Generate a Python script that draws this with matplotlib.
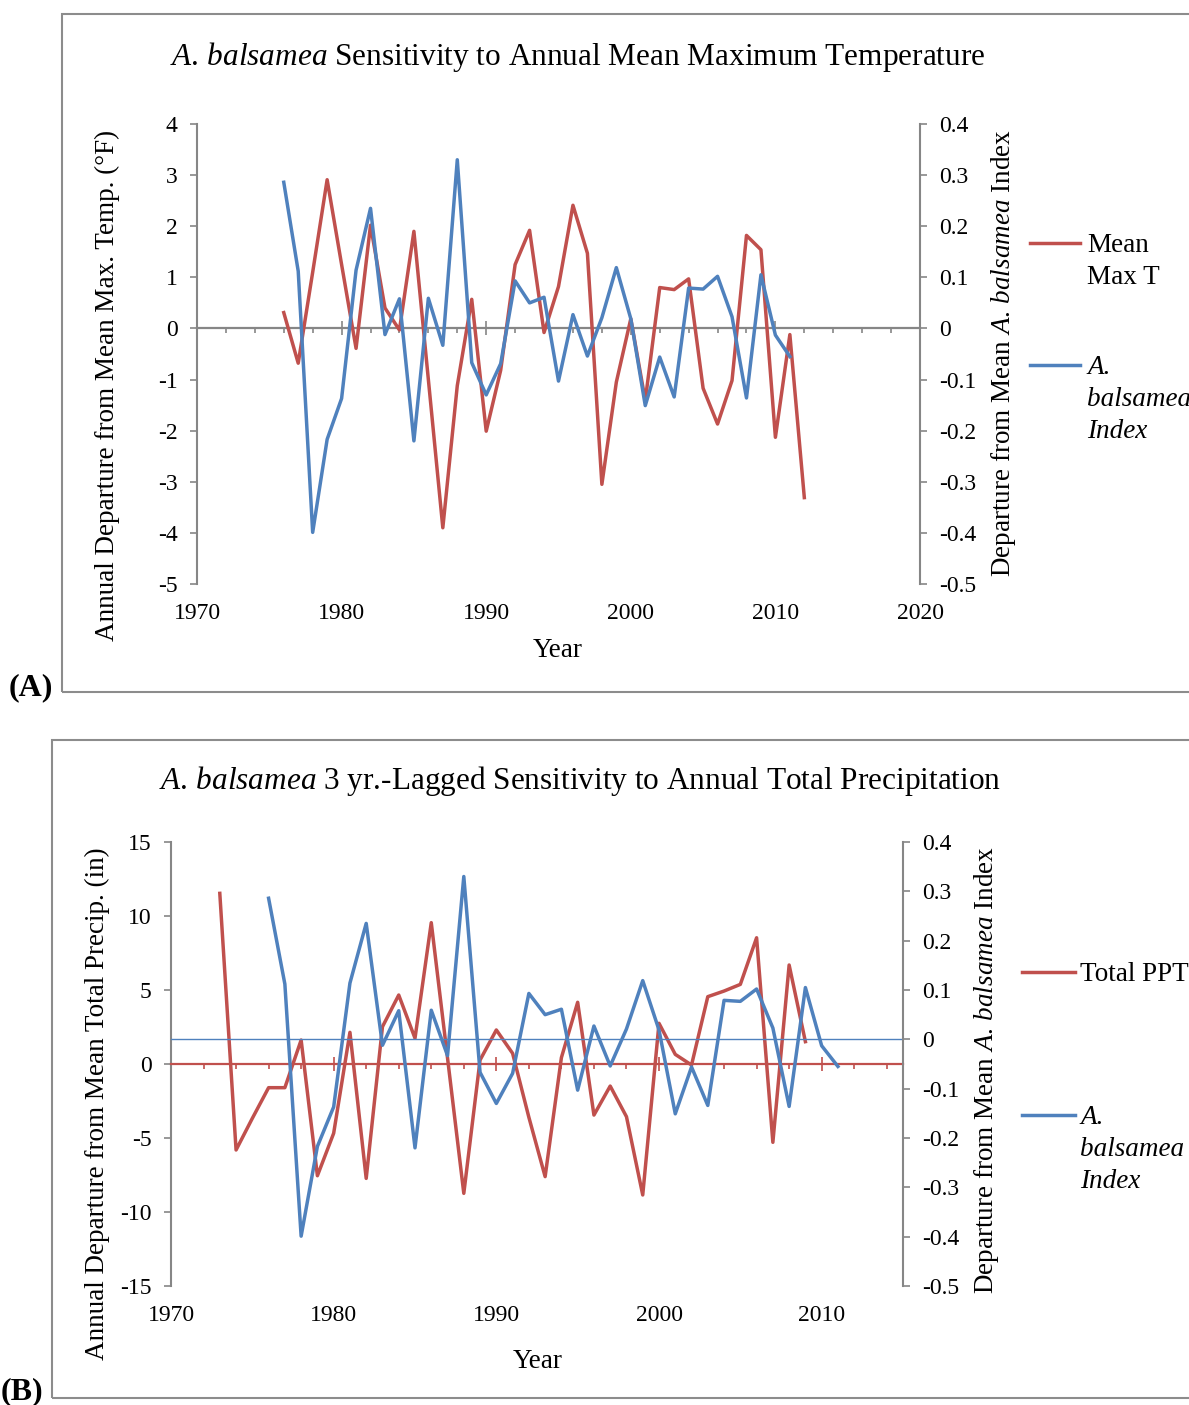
import matplotlib
matplotlib.use("Agg")
import matplotlib.pyplot as plt
from matplotlib.ticker import MultipleLocator, FixedLocator, FuncFormatter, NullLocator
from matplotlib.patches import Rectangle
from matplotlib.lines import Line2D

# ---------------- data ----------------
years_temp = list(range(1976, 2013))
mean_max_t = [0.31, -0.68, 1.10, 2.91, 1.25, -0.39, 2.02, 0.40, -0.03, 1.90,
              -1.00, -3.90, -1.12, 0.57, -2.01, -0.82, 1.25, 1.92, -0.08, 0.82,
              2.41, 1.47, -3.05, -1.05, 0.19, -1.41, 0.80, 0.76, 0.97, -1.17,
              -1.87, -1.02, 1.82, 1.54, -2.13, -0.12, -3.31]

years_index = list(range(1976, 2012))
balsamea_index = [0.286, 0.112, -0.399, -0.217, -0.137, 0.114, 0.235, -0.012, 0.058, -0.220,
                  0.059, -0.033, 0.330, -0.067, -0.130, -0.069, 0.093, 0.050, 0.061, -0.103,
                  0.027, -0.054, 0.021, 0.119, 0.019, -0.151, -0.056, -0.134, 0.079, 0.077,
                  0.102, 0.023, -0.136, 0.105, -0.013, -0.055]

years_ppt = list(range(1973, 2010))
total_ppt = [11.53, -5.81, -3.67, -1.60, -1.60, 1.62, -7.55, -4.68, 2.14, -7.73,
             2.52, 4.66, 1.74, 9.55, 0.40, -8.74, 0.27, 2.30, 0.72, -3.60,
             -7.61, 0.43, 4.17, -3.45, -1.49, -3.56, -8.85, 2.75, 0.65, -0.07,
             4.55, 4.93, 5.38, 8.53, -5.29, 6.69, 1.51]

xticks_a = [1970, 1980, 1990, 2000, 2010, 2020]
xticks_b = [1970, 1980, 1990, 2000, 2010]

# ---------------- style ----------------
RED = "#C0504D"
BLUE = "#4F81BD"
GRAY = "#868686"
FONT = "Liberation Serif"
plt.rcParams["font.family"] = [FONT, "DejaVu Serif"]
plt.rcParams["mathtext.fontset"] = "custom"
plt.rcParams["mathtext.rm"] = FONT
plt.rcParams["mathtext.it"] = FONT + ":italic"
plt.rcParams["axes.unicode_minus"] = False

TICK_FS = 17
LAB_FS = 19.5
TITLE_FS = 22.5
LEG_FS = 19.5
LEG_LS = 1.36
LW = 2.5

W, H = 1189, 1405
fig = plt.figure(figsize=(W / 100, H / 100), dpi=100)


def fx(x):
    return x / W


def fy(y):
    return 1 - y / H


def fmt_right(v, pos):
    if abs(v) < 1e-9:
        return "0"
    return f"{v:.1f}"


def fmt_left(v, pos):
    return f"{v:.0f}"


def build_panel(box, frame, xlim, xticks, yl, yl_step, left_data, left_years,
                left_color, axis_color, title, ylab_left, ylab_right,
                title_xy, year_xy, ylab_left_xy, ylab_right_xy,
                leg_red, leg_blue, leg_red_label, panel_label, panel_xy):
    # frame
    fig.patches.append(Rectangle((fx(frame[0]), fy(frame[3])), fx(frame[2] - frame[0]),
                                 (frame[3] - frame[1]) / H, transform=fig.transFigure,
                                 fill=False, edgecolor="#8C8C8C", lw=1.5, zorder=0))
    ax = fig.add_axes([fx(box[0]), fy(box[3]), fx(box[2] - box[0]), (box[3] - box[1]) / H])
    ax.set_xlim(*xlim)
    ax.set_ylim(*yl)
    ax2 = ax.twinx()
    ax2.set_ylim(-0.5, 0.4)

    ax.plot(left_years, left_data, color=left_color, lw=LW, zorder=3)
    ax2.plot(years_index, balsamea_index, color=BLUE, lw=LW, zorder=3)

    # spines
    for s in ["top", "right"]:
        ax.spines[s].set_visible(False)
    for s in ["top", "left", "bottom"]:
        ax2.spines[s].set_visible(False)
    ax.spines["left"].set_color(GRAY)
    ax.spines["left"].set_linewidth(1.5)
    ax2.spines["right"].set_color(GRAY)
    ax2.spines["right"].set_linewidth(1.5)
    ax.spines["bottom"].set_position(("data", 0))
    ax.spines["bottom"].set_color(axis_color)
    ax.spines["bottom"].set_linewidth(1.6)
    ax.spines["bottom"].set_zorder(2.5)

    # x ticks on the zero line
    ax.xaxis.set_major_locator(MultipleLocator(10))
    ax.xaxis.set_minor_locator(MultipleLocator(2))
    ax.tick_params(axis="x", which="major", direction="inout", length=10, width=1.2,
                   color=axis_color, labelbottom=False)
    ax.tick_params(axis="x", which="minor", direction="out", length=3.5, width=1.2,
                   color=axis_color)

    # y ticks
    ax.yaxis.set_major_locator(MultipleLocator(yl_step))
    ax.yaxis.set_major_formatter(FuncFormatter(fmt_left))
    ax.tick_params(axis="y", direction="out", length=5, width=1.2, color=GRAY,
                   labelsize=TICK_FS, pad=9)
    ax2.yaxis.set_major_locator(MultipleLocator(0.1))
    ax2.yaxis.set_major_formatter(FuncFormatter(fmt_right))
    ax2.tick_params(axis="y", direction="out", length=5, width=1.2, color=GRAY,
                    labelsize=TICK_FS, pad=9)

    # year labels at the bottom of the plot area
    sec = ax.secondary_xaxis("bottom")
    sec.xaxis.set_major_locator(FixedLocator(xticks))
    sec.xaxis.set_minor_locator(NullLocator())
    sec.xaxis.set_major_formatter(FuncFormatter(lambda v, p: f"{v:.0f}"))
    sec.tick_params(axis="x", length=0, labelsize=TICK_FS, pad=14)
    sec.spines["bottom"].set_visible(False)

    # text
    fig.text(fx(title_xy[0]), fy(title_xy[1]), title, fontsize=TITLE_FS,
             ha="center", va="center")
    fig.text(fx(year_xy[0]), fy(year_xy[1]), "Year", fontsize=LAB_FS, ha="center", va="center")
    fig.text(fx(ylab_left_xy[0]), fy(ylab_left_xy[1]), ylab_left, fontsize=LAB_FS,
             rotation=90, ha="center", va="center")
    fig.text(fx(ylab_right_xy[0]), fy(ylab_right_xy[1]), ylab_right, fontsize=LAB_FS,
             rotation=90, ha="center", va="center")
    fig.text(fx(panel_xy[0]), fy(panel_xy[1]), panel_label, fontsize=23,
             fontweight="bold", ha="left", va="center")

    # legend (outside right): handle aligned with first text line
    x0, x1, xt = leg_red[0], leg_red[1], leg_red[2]
    off = 10  # px from line centre to top of text block
    fig.add_artist(Line2D([fx(x0), fx(x1)], [fy(leg_red[3])] * 2, color=left_color, lw=LW,
                          transform=fig.transFigure))
    fig.text(fx(xt), fy(leg_red[3] - off), leg_red_label, fontsize=LEG_FS, ha="left",
             va="top", linespacing=LEG_LS)
    fig.add_artist(Line2D([fx(x0), fx(x1)], [fy(leg_blue)] * 2, color=BLUE, lw=LW,
                          transform=fig.transFigure))
    fig.text(fx(xt), fy(leg_blue - off), "A.\nbalsamea\nIndex", fontsize=LEG_FS, ha="left",
             va="top", linespacing=LEG_LS, fontstyle="italic")
    return ax, ax2


ylab_right_txt = r"Departure from Mean $\mathit{A.\,balsamea}$ Index"

# Panel A
build_panel(box=(197, 124, 920, 584), frame=(62, 14, 1300, 692), xlim=(1970, 2020),
            xticks=xticks_a, yl=(-5, 4), yl_step=1, left_data=mean_max_t,
            left_years=years_temp, left_color=RED, axis_color=GRAY,
            title=r"$\mathit{A.\,balsamea}$ Sensitivity to Annual Mean Maximum Temperature",
            ylab_left="Annual Departure from Mean Max. Temp. (\u00b0F)",
            ylab_right=ylab_right_txt,
            title_xy=(578, 57), year_xy=(558, 650), ylab_left_xy=(107, 385),
            ylab_right_xy=(1003, 353),
            leg_red=(1030, 1080, 1087, 243), leg_blue=365, leg_red_label="Mean\nMax T",
            panel_label="(A)", panel_xy=(9, 688))

# Panel B
axb, axb2 = build_panel(box=(171, 842, 903, 1286), frame=(52, 740, 1300, 1398), xlim=(1970, 2015),
                        xticks=xticks_b, yl=(-15, 15), yl_step=5, left_data=total_ppt,
                        left_years=years_ppt, left_color=RED, axis_color=RED,
                        title=r"$\mathit{A.\,balsamea}$ 3 yr.-Lagged Sensitivity to Annual Total Precipitation",
                        ylab_left="Annual Departure from Mean Total Precip. (in)",
                        ylab_right=ylab_right_txt,
                        title_xy=(580, 781), year_xy=(538, 1362), ylab_left_xy=(97, 1104),
                        ylab_right_xy=(987, 1070),
                        leg_red=(1022, 1075, 1080, 972), leg_blue=1115, leg_red_label="Total PPT",
                        panel_label="(B)", panel_xy=(1, 1392))
axb2.axhline(0, color=BLUE, lw=1.0, zorder=1)

fig.savefig("out.png", dpi=100)
